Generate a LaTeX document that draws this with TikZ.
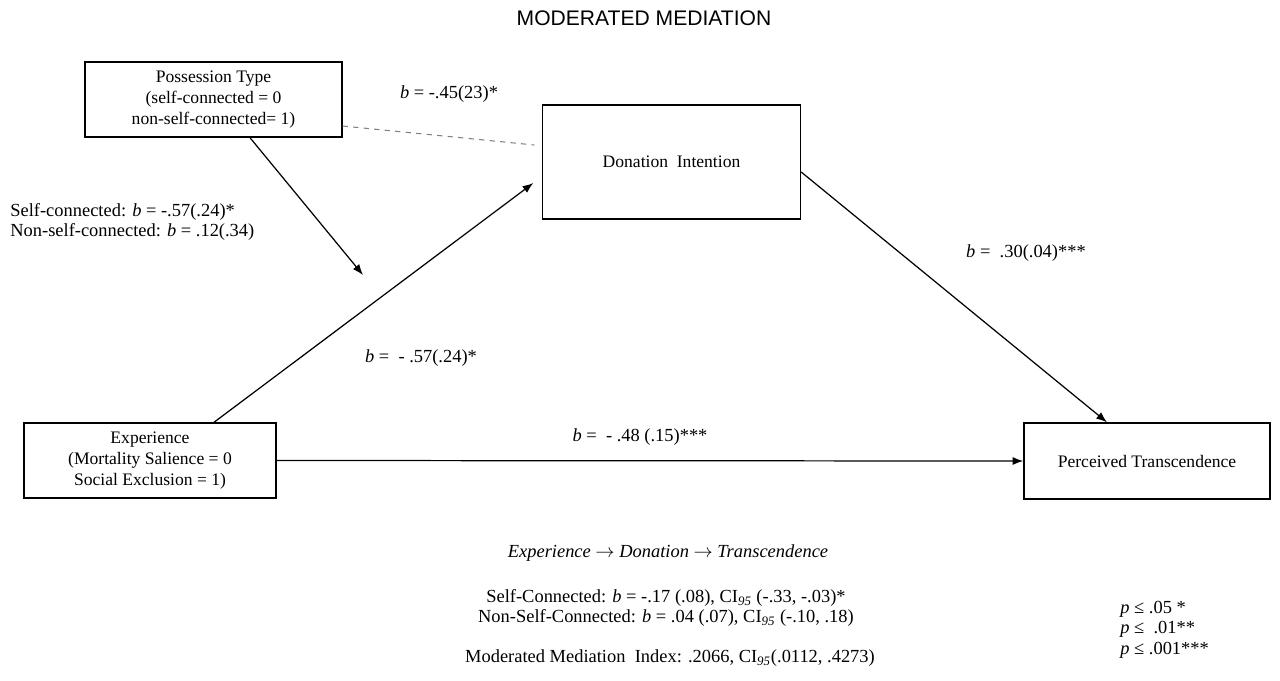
\documentclass[tikz,border=0pt]{standalone}
\usepackage{fontspec}
\setmainfont{Liberation Serif}
\newfontfamily\titlefont{Liberation Sans}
\usetikzlibrary{positioning,arrows.meta}

\begin{document}
\begin{tikzpicture}[x=0.02cm, y=-0.02cm, >=Latex,
        box/.style={draw,
            line width=0.8pt,
            align=center,
            inner sep=0pt,
            font=\fontsize{10}{12}\selectfont},
        lbl/.style={inner sep=0pt,
            font=\fontsize{10.5}{11.5}\selectfont},
        link/.style={->, line width=0.7pt}]

        \useasboundingbox (0,0) rectangle (1280,680);

        % Title
        \node[font=\titlefont\fontsize{12}{14}\selectfont] (title) at (644,18) {MODERATED MEDIATION};

        % Boxes
        \node [box,
        minimum width=5.14cm,
        minimum height=1.5cm
            ] (poss) at (213.5,99.5) {Possession Type\\(self-connected = 0\\non-self-connected= 1)};

        \node [box,
        minimum width=5.16cm,
        minimum height=2.28cm
            ] (don) at (671.5,162) {Donation\ \ Intention};

        \node [box,
        minimum width=5.04cm,
        minimum height=1.5cm
            ] (exp) at (150,460.5) {Experience\\(Mortality Salience = 0\\Social Exclusion = 1)};

        \node [box,
        minimum width=4.92cm,
        minimum height=1.52cm
            ] (perc) at (1147,461) {Perceived Transcendence};

        % Paths
        \coordinate (modpt) at (363,275);

        \draw[link] ([xshift=0.73cm]poss.south) -- (modpt);

        \draw[link] ([xshift=1.28cm]exp.north) -- ([xshift=-0.17cm,yshift=-0.42cm]don.west);

        \draw[dashed, line width=0.6pt, gray] ([yshift=-0.53cm]poss.east) -- ([xshift=-0.15cm,yshift=0.34cm]don.west);

        \draw[link] ([yshift=-0.2cm]don.east) -- ([xshift=-0.8cm]perc.north);

        \draw[link] (exp.east) -- (perc.west);

        % Coefficients
        \node[lbl] (bmod) at (449,94) {\textit{b} = -.45(23)*};
        \node[lbl, align=left, anchor=west] (bself) at (10,222)
            {Self-connected: \textit{b} = -.57(.24)*\\Non-self-connected: \textit{b} = .12(.34)};
        \node[lbl] (ba) at (421,358) {\textit{b} =\ \ - .57(.24)*};
        \node[lbl] (bc) at (640,437) {\textit{b} =\ \ - .48 (.15)***};
        \node[lbl] (bb) at (1026,253) {\textit{b} =\ \ .30(.04)***};

        % Indirect effect
        \node[lbl, font=\fontsize{10.5}{11.5}\selectfont\itshape] (chain) at (668,553)
            {Experience $\rightarrow$ Donation $\rightarrow$ Transcendence};
        \node[lbl, align=center] (cond) at (666,608)
            {Self-Connected: \textit{b} = -.17 (.08), CI\textsubscript{\textit{95}} (-.33, -.03)*\\
            Non-Self-Connected: \textit{b} = .04 (.07), CI\textsubscript{\textit{95}} (-.10, .18)};
        \node[lbl] (index) at (670,658)
            {Moderated Mediation\ \ Index: .2066, CI\textsubscript{\textit{95}}(.0112, .4273)};
        \node[lbl, align=left, anchor=north west] (pval) at (1120,601)
            {\textit{p} ≤ .05 *\\\textit{p} ≤\ \ .01**\\\textit{p} ≤ .001***};
\end{tikzpicture}
\end{document}
